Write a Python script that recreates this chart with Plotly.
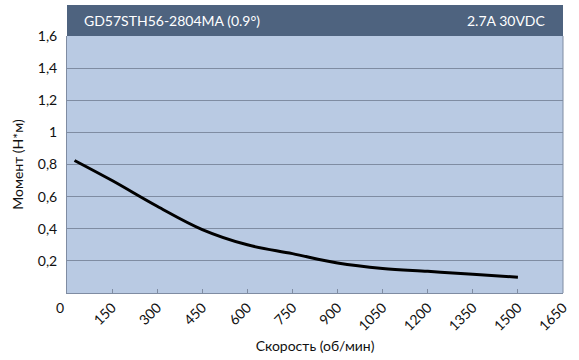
import plotly.graph_objects as go

speed = [25, 150, 300, 450, 600, 750, 900, 1050, 1200, 1350, 1500]
torque = [0.825, 0.70, 0.54, 0.395, 0.30, 0.245, 0.187, 0.153, 0.135, 0.117, 0.098]

x_ticks = [150, 300, 450, 600, 750, 900, 1050, 1200, 1350, 1500, 1650]
x_labels = [str(v) for v in x_ticks]
y_ticks = [0.2, 0.4, 0.6, 0.8, 1.0, 1.2, 1.4, 1.6]
y_labels = ["0,2", "0,4", "0,6", "0,8", "1", "1,2", "1,4", "1,6"]

title_left = "GD57STH56-2804MA (0.9°)"
title_right = "2.7A 30VDC"
x_title = "Скорость (об/мин)"
y_title = "Момент (Н*м)"

FONT = "Lato, Open Sans, sans-serif"
GRID = "#7f8ca2"
TXT = "#111111"

fig = go.Figure()
fig.add_trace(go.Scatter(
    x=speed, y=torque, mode="lines",
    line=dict(color="black", width=3, shape="spline", smoothing=1.0),
    hoverinfo="skip", showlegend=False,
))

fig.update_layout(
    width=579, height=360,
    margin=dict(l=67, r=16, t=36, b=67),
    paper_bgcolor="white",
    plot_bgcolor="#b9cae3",
    font=dict(family=FONT, size=14, color=TXT),
    xaxis=dict(
        range=[0, 1650], tickvals=x_ticks, ticktext=x_labels,
        tickangle=-45, showgrid=False, zeroline=False, automargin=False,
        showline=True, linecolor=GRID, linewidth=1, mirror=False,
        ticks="inside", ticklen=4, tickcolor=GRID,
        tickfont=dict(size=14, color=TXT),
        title=dict(text=x_title, font=dict(size=14), standoff=8),
        fixedrange=True,
    ),
    yaxis=dict(
        range=[0, 1.6], tickvals=y_ticks, ticktext=y_labels,
        showgrid=True, gridcolor=GRID, gridwidth=1, zeroline=False, automargin=False,
        showline=True, linecolor=GRID, linewidth=1,
        ticks="", ticklabelstandoff=6,
        tickfont=dict(size=14, color=TXT),
        title=dict(text=y_title, font=dict(size=14), standoff=10),
        fixedrange=True,
    ),
)

# right border of plot area
fig.add_shape(type="line", xref="paper", yref="paper", x0=1, x1=1, y0=0, y1=1,
              line=dict(color=GRID, width=1))
# title bar
fig.add_shape(type="rect", xref="paper", yref="paper", x0=0, x1=1, y0=1, y1=1 + 31 / 257,
              fillcolor="#4e637f", line=dict(width=0), layer="above")
fig.add_annotation(xref="paper", yref="paper", x=15 / 496, y=1 + 15.5 / 257,
                   text=title_left, showarrow=False, xanchor="left", yanchor="middle",
                   font=dict(family=FONT, size=14, color="white"))
fig.add_annotation(xref="paper", yref="paper", x=1 - 15 / 496, y=1 + 15.5 / 257,
                   text=title_right, showarrow=False, xanchor="right", yanchor="middle",
                   font=dict(family=FONT, size=14, color="white"))
# unrotated zero label
fig.add_annotation(xref="paper", yref="paper", x=-7 / 496, y=-14 / 257,
                   text="0", showarrow=False, xanchor="center", yanchor="middle",
                   font=dict(family=FONT, size=14, color=TXT))

fig.write_html("out.html", config={"displayModeBar": False},
               post_script="document.body.style.margin='0';document.body.style.padding='0';")
